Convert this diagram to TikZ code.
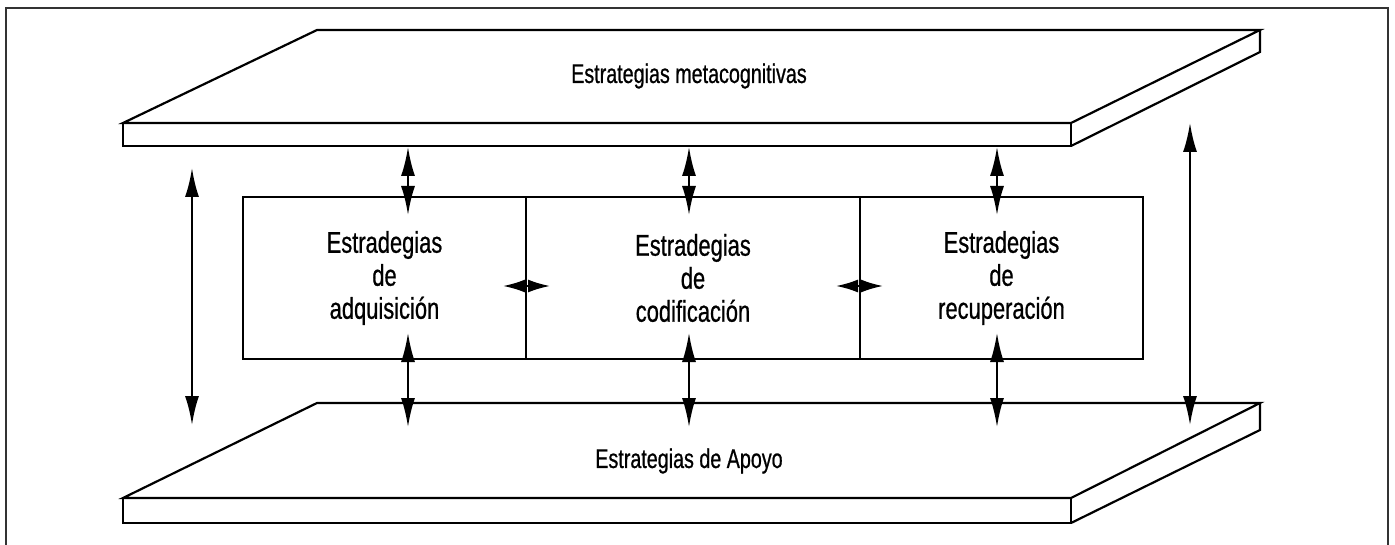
\documentclass[tikz,border=0pt]{standalone}
\usepackage{fontspec}
\setmainfont{Liberation Sans}[FakeStretch=0.73]
\newfontfamily\lblfont{Liberation Sans}[FakeStretch=0.73, FakeBold=0.7]
\usetikzlibrary{arrows.meta,positioning}

\tikzset{
  slab/.style={line width=2.2pt, line join=miter},
  cell/.style={draw, line width=2.2pt, minimum width=283pt, minimum height=162pt,
    outer sep=0pt, align=center, inner sep=0pt, font=\lblfont\fontsize{30}{33}\selectfont},
  dbl/.style={{Latex[length=29pt,width=14pt]}-{Latex[length=29pt,width=14pt]}, line width=2.2pt},
  sdbl/.style={{Latex[length=22pt,width=13pt]}-{Latex[length=22pt,width=13pt]}, line width=2pt},
  frame/.style={draw=black!80, line width=1.6pt}
}

\begin{document}
\begin{tikzpicture}
  [
    x=1pt, y=-1pt
  ]
  \useasboundingbox (0,0) rectangle (1395,545);
  \draw [frame] (6,545) -- (6,8) -- (1388,8) -- (1388,545);

  % upper slab
  \draw [slab] (123,123) -- (317,30) -- (1260,30) -- (1071,123) -- cycle;
  \draw [slab] (123,123) rectangle (1071,146);
  \draw [slab] (1071,146) -- (1260,52) -- (1260,30);
  \node [font=\lblfont\fontsize{27}{30}\selectfont] (meta) at (689,76) {Estrategias metacognitivas};

  % lower slab
  \draw [slab] (123,498) -- (317,403) -- (1260,403) -- (1071,498) -- cycle;
  \draw [slab] (123,498) rectangle (1071,523);
  \draw [slab] (1071,523) -- (1260,430) -- (1260,403);
  \node [font=\lblfont\fontsize{27}{30}\selectfont] (apoyo) at (689,461) {Estrategias de Apoyo};

  % central block
  \node [cell, minimum width=283pt] at (384.5,278) (acq) {Estradegias\\de\\adquisición};
  \node [cell, minimum width=334pt, right=0pt of acq] (cod) {Estradegias\\de\\codificación};
  \node [cell, minimum width=283pt, right=0pt of cod] (rec) {Estradegias\\de\\recuperación};

  % vertical links
  \foreach \pos [count=\idx] in {408, 689, 997}{
    \coordinate (up\idx) at (\pos,147);
    \coordinate (dn\idx) at (\pos,215);
    \coordinate (bu\idx) at (\pos,333);
    \coordinate (bd\idx) at (\pos,427);
    \draw [dbl] (up\idx) -- (dn\idx);
    \draw [dbl] (bu\idx) -- (bd\idx);
  }

  % horizontal links
  \draw [sdbl] ([xshift=-23pt, yshift=-8pt]acq.east) -- ([xshift=24pt, yshift=-8pt]acq.east);
  \draw [sdbl] ([xshift=-24pt, yshift=-8pt]cod.east) -- ([xshift=23pt, yshift=-8pt]cod.east);

  % outer links
  \coordinate (lt) at (192,168);
  \coordinate (lb) at (192,425);
  \coordinate (rt) at (1190,123);
  \coordinate (rb) at (1190,425);
  \draw [dbl] (lt) -- (lb);
  \draw [dbl] (rt) -- (rb);

\end{tikzpicture}
\end{document}
